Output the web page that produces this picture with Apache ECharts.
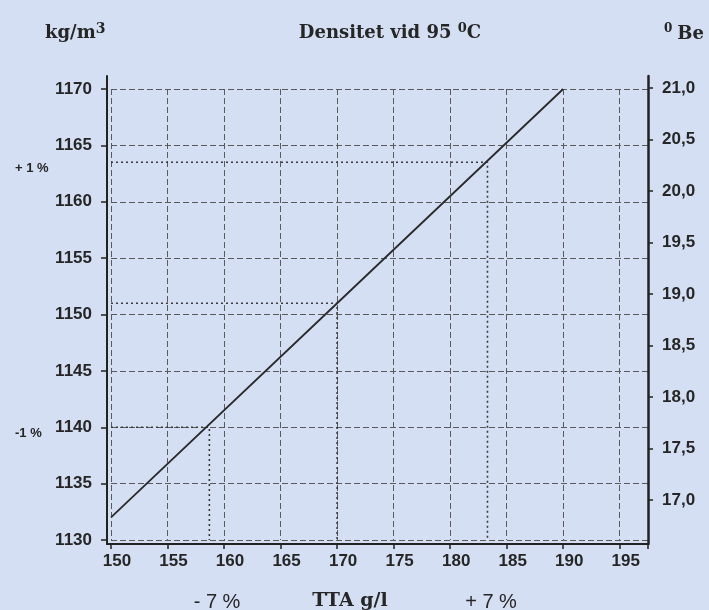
<!DOCTYPE html>
<html>
<head>
<meta charset="utf-8">
<script src="https://cdn.jsdelivr.net/npm/echarts@6/dist/echarts.min.js"></script>
<style>
html,body{margin:0;padding:0;background:#d5dff3;}
#chart{width:709px;height:610px;}
</style>
</head>
<body>
<div id="chart"></div>
<script>
// ---- data ----
const xTicks = [150, 155, 160, 165, 170, 175, 180, 185, 190, 195];
const densityTicks = [1130, 1135, 1140, 1145, 1150, 1155, 1160, 1165, 1170];
const beTickValues = [17.0, 17.5, 18.0, 18.5, 19.0, 19.5, 20.0, 20.5, 21.0];
const beTickLabels = ['17,0', '17,5', '18,0', '18,5', '19,0', '19,5', '20,0', '20,5', '21,0'];

const ttaValues = [150, 170, 190];
const densityValues = [1132, 1151, 1170];

const plusGuideX = [150, 183.3, 183.3];
const plusGuideY = [1163.5, 1163.5, 1130];
const midGuideX = [150, 170, 170];
const midGuideY = [1151, 1151, 1130];
const minusGuideX = [150, 158.7, 158.7];
const minusGuideY = [1140, 1140, 1130];

const zip = (xs, ys) => xs.map((x, i) => [x, ys[i]]);

const chart = echarts.init(document.getElementById('chart'));
const sans = 'Liberation Sans';
const serif = 'DejaVu Serif';
const ink = '#262626';
const gridLine = { show: true, lineStyle: { color: '#5a5a5a', width: 1, type: [6, 3] } };
const guideStyle = { color: '#3a3a3a', width: 1.6, type: [2, 3] };
const frameLine = (w) => ({ show: true, lineStyle: { color: '#222', width: w } });
const hiddenParts = { axisTick: { show: false }, axisLabel: { show: false }, splitLine: { show: false } };

const serifRich = (main, sup) => ({
  a: { fontFamily: serif, fontWeight: 'bold', fontSize: main, color: ink, lineHeight: 20, verticalAlign: 'bottom' },
  s: { fontFamily: serif, fontWeight: 'bold', fontSize: sup, color: ink, lineHeight: sup, verticalAlign: 'top' }
});

const option = {
  backgroundColor: '#d5dff3',
  animation: false,
  title: [
    {
      text: '{a|Densitet vid 95 }{s|0}{a|C}',
      left: 385, top: 17, textAlign: 'center',
      textStyle: { rich: serifRich(18, 13) }
    },
    {
      text: '{a|kg/m}{s|3}',
      left: 40, top: 17,
      textStyle: { rich: serifRich(18, 14) }
    },
    {
      text: '{s|0} {a|Be}',
      left: 659, top: 18,
      textStyle: { rich: serifRich(18, 12) }
    },
    {
      text: 'TTA g/l', left: 345, top: 587, textAlign: 'center',
      textStyle: { fontFamily: serif, fontWeight: 'bold', fontSize: 19, color: ink }
    },
    {
      text: '- 7 %', left: 212, top: 587, textAlign: 'center',
      textStyle: { fontFamily: sans, fontWeight: 'normal', fontSize: 20, color: ink }
    },
    {
      text: '+ 7 %', left: 486, top: 587, textAlign: 'center',
      textStyle: { fontFamily: sans, fontWeight: 'normal', fontSize: 20, color: ink }
    },
    {
      text: '+ 1 %', left: 10, top: 157,
      textStyle: { fontFamily: sans, fontWeight: 'bold', fontSize: 13, color: ink }
    },
    {
      text: '-1 %', left: 10, top: 422,
      textStyle: { fontFamily: sans, fontWeight: 'bold', fontSize: 13, color: ink }
    }
  ],
  grid: [
    { left: 111, right: 61, top: 89, bottom: 70, containLabel: false },
    { left: 111, right: 61, top: 88, bottom: 110, containLabel: false },
    { left: 107, right: 61, top: 76, bottom: 66, containLabel: false }
  ],
  xAxis: [
    {
      type: 'value', gridIndex: 0, min: 150, max: 197.5, interval: 5, offset: 4,
      axisLine: { show: false },
      axisTick: { show: true, length: 5, lineStyle: { color: '#222', width: 1.5 } },
      axisLabel: {
        margin: 9, fontFamily: sans, fontWeight: 'bold', fontSize: 17, color: ink,
        padding: [0, 0, 0, 12],
        formatter: v => (xTicks.indexOf(v) >= 0 ? String(v) : '')
      },
      splitLine: gridLine
    },
    { type: 'value', gridIndex: 1, min: 150, max: 197.5, show: false },
    Object.assign({ type: 'value', gridIndex: 2, min: 0, max: 1, axisLine: frameLine(2) }, hiddenParts)
  ],
  yAxis: [
    {
      type: 'value', gridIndex: 0, position: 'left', min: 1130, max: 1170, interval: 5, offset: 4,
      axisLine: { show: false },
      axisTick: { show: true, length: 6, lineStyle: { color: '#222', width: 1.5 } },
      axisLabel: {
        margin: 15, fontFamily: sans, fontWeight: 'bold', fontSize: 17, color: ink,
        padding: [7, 0, 0, 0],
        formatter: v => (densityTicks.indexOf(v) >= 0 ? String(v) : '')
      },
      splitLine: gridLine
    },
    {
      type: 'value', gridIndex: 1, position: 'right', min: 17, max: 21, interval: 0.5,
      axisLine: { show: false },
      axisTick: { show: true, length: 5, lineStyle: { color: '#222', width: 1.5 } },
      axisLabel: {
        margin: 14, fontFamily: sans, fontWeight: 'bold', fontSize: 17, color: ink,
        padding: [7, 0, 0, 0],
        formatter: v => {
          const i = beTickValues.findIndex(b => Math.abs(b - v) < 1e-6);
          return i >= 0 ? beTickLabels[i] : '';
        }
      },
      splitLine: { show: false }
    },
    Object.assign({ type: 'value', gridIndex: 2, position: 'left', min: 0, max: 1, axisLine: frameLine(2) }, hiddenParts),
    Object.assign({ type: 'value', gridIndex: 2, position: 'right', min: 0, max: 1, axisLine: frameLine(2.5) }, hiddenParts)
  ],
  series: [
    {
      type: 'line', xAxisIndex: 0, yAxisIndex: 0, data: zip(plusGuideX, plusGuideY),
      symbol: 'none', lineStyle: guideStyle, silent: true
    },
    {
      type: 'line', xAxisIndex: 0, yAxisIndex: 0, data: zip(midGuideX, midGuideY),
      symbol: 'none', lineStyle: guideStyle, silent: true
    },
    {
      type: 'line', xAxisIndex: 0, yAxisIndex: 0, data: zip(minusGuideX, minusGuideY),
      symbol: 'none', lineStyle: guideStyle, silent: true
    },
    {
      type: 'line', xAxisIndex: 0, yAxisIndex: 0, data: zip(ttaValues, densityValues),
      symbol: 'none', lineStyle: { color: '#2a2a2a', width: 1.8 }
    }
  ]
};
chart.setOption(option);
</script>
</body>
</html>
